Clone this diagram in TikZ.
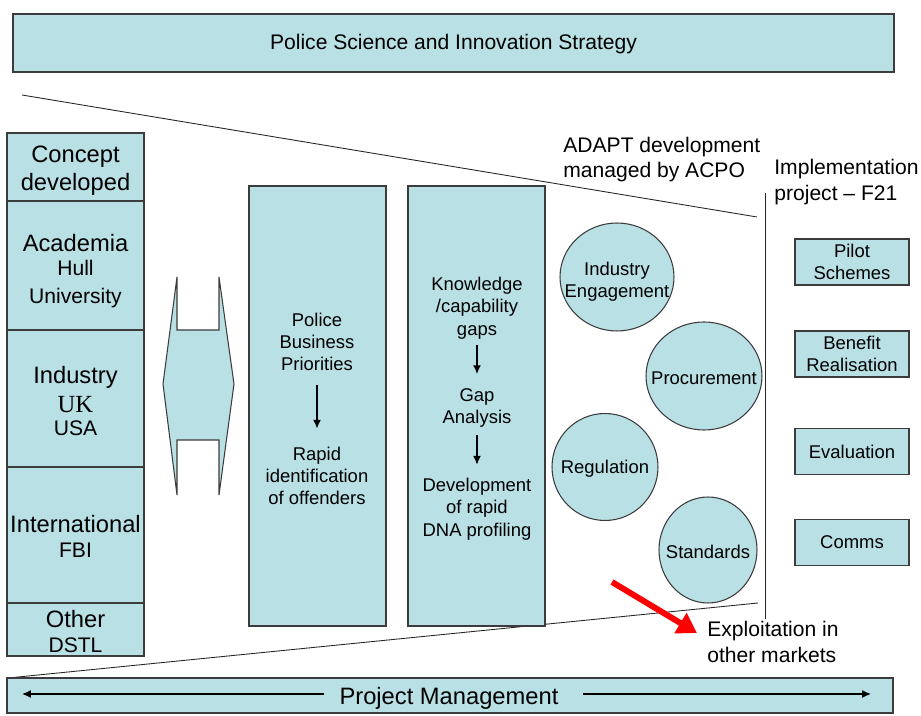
\documentclass[tikz,border=0pt]{standalone}
\usepackage{fontspec}
\setmainfont{Liberation Sans}
\newfontfamily\ukserif{Liberation Serif}
\usetikzlibrary{arrows.meta}
\definecolor{boxfill}{RGB}{185,224,228}
\definecolor{boxline}{RGB}{60,60,60}

\begin{document}
\begin{tikzpicture}[x=0.02cm, y=-0.02cm,
		box/.style={draw=boxline, fill=boxfill, line width=0.6pt},
		funnel/.style={draw=black!85, line width=0.5pt},
		main/.style={font=\fontsize{13.5}{16}\selectfont, align=center, inner sep=0pt},
		sub/.style={font=\fontsize{12}{16.4}\selectfont, align=center, inner sep=0pt},
		lbl/.style={font=\fontsize{12}{14.5}\selectfont, align=left, inner sep=0pt, anchor=west},
		txt/.style={font=\fontsize{10.5}{12.7}\selectfont, align=center, inner sep=0pt},
		flow/.style={-{Latex[length=5pt, width=4.5pt]}, line width=0.8pt},
		rbox/.style={box, txt, minimum width=2.28cm, minimum height=0.92cm}]
			%%%%% START %%%%%
			\useasboundingbox (0,0) rectangle (921,716);
			
			\draw[box] (13,14) rectangle (894,72);
			\node[font=\fontsize{12}{14}\selectfont, inner sep=0pt] (strategy) at (453.5,44.5) {Police Science and Innovation Strategy};
			
			\draw[funnel] (22,95) -- (757,217);
			\draw[funnel] (8,678) -- (758,603);
			\draw[funnel] (765.3,193) -- (765.3,619);
			
			\node[lbl] (adapt) at (563,159.5) {ADAPT development\\managed by ACPO};
			\node[lbl] (implement) at (774,182) {Implementation\\project -- F21};
			
			% partner column
			\foreach \ytop/\ybot in {133/201, 201/330, 330/467, 467/603, 603/656}
				\draw[box] (7,\ytop) rectangle (144,\ybot);
			\node[main] (concept) at (75.5,171) {Concept\\developed};
			\node[main] (academia) at (75.5,243) {Academia};
			\node[sub] (hull) at (75.5,284) {Hull\\University};
			\node[main] (industry) at (75.5,377) {Industry};
			\node[inner sep=0pt, font=\ukserif\fontsize{14}{16}\selectfont] (uk) at (75.5,405) {UK};
			\node[sub] (usa) at (75.5,428) {USA};
			\node[main] (intl) at (75.5,524) {International};
			\node[sub] (fbi) at (75.5,550) {FBI};
			\node[main] (other) at (75.5,619) {Other};
			\node[sub] (dstl) at (75.5,645) {DSTL};
			
			\draw[box] (163,384) -- (177,277) -- (177,330) -- (219,330) -- (219,277) -- (234,384)
				-- (219,495) -- (219,440) -- (177,440) -- (177,495) -- cycle;
			
			% priorities and gaps
			\draw[box] (249,186) rectangle (386,626);
			\node[txt] (police) at (317,342) {Police\\Business\\Priorities};
			\node[txt] (rapid) at (317,476) {Rapid\\identification\\of offenders};
			\draw[flow, shorten <=7.7pt, shorten >=10.2pt] (police) -- (rapid);
			
			\draw[box] (408,186) rectangle (545,626);
			\node[txt] (knowledge) at (477,308) {Knowledge\\/capability\\gaps};
			\node[txt] (gap) at (477,408) {Gap\\Analysis};
			\node[txt] (develop) at (477,509) {Development\\of rapid\\DNA profiling};
			\draw[flow, shorten <=3.2pt, shorten >=8pt] (knowledge) -- (gap);
			\draw[flow, shorten <=4.3pt, shorten >=7.4pt] (gap) -- (develop);
			
			% circles
			\draw[box] (617,277) ellipse [x radius=1.14cm, y radius=1.08cm];
			\node[txt] (engage) at (617,282) {Industry\\Engagement};
			\draw[box] (704,376) ellipse [x radius=1.16cm, y radius=1.08cm];
			\node[txt] (procure) at (704,378) {Procurement};
			\draw[box] (605,467) ellipse [x radius=1.06cm, y radius=1.07cm];
			\node[txt] (regulate) at (605,469) {Regulation};
			\draw[box] (708,550) ellipse [x radius=0.98cm, y radius=1.06cm];
			\node[txt] (standards) at (708,552) {Standards};
			
			% implementation boxes
			\node[rbox] (pilot) at (852,262) {Pilot\\Schemes};
			\node[rbox] (benefit) at (852,354) {Benefit\\Realisation};
			\node[rbox] (evaluate) at (852,451.5) {Evaluation};
			\node[rbox] (comms) at (852,542.5) {Comms};
			
			\node[lbl] (exploit) at (707,642) {Exploitation in\\other markets};
			\coordinate (redtail) at (612,582);
			\coordinate (redtip) at (697,633);
			\draw[red, line width=3.4pt, -{Triangle[length=11pt, width=13pt]}] (redtail) -- (redtip);
			
			% project management
			\draw[box] (7,678) rectangle (893,713);
			\node[main] (pm) at (449,698.5) {Project Management};
			\coordinate (pmleft) at (22,694);
			\coordinate (pmright) at (871,694);
			\draw[flow, shorten <=8.5pt] (pm.west |- pmleft) -- (pmleft);
			\draw[flow, shorten <=14pt] (pm.east |- pmright) -- (pmright);
			%%%%% END %%%%%
		\end{tikzpicture}
\end{document}
